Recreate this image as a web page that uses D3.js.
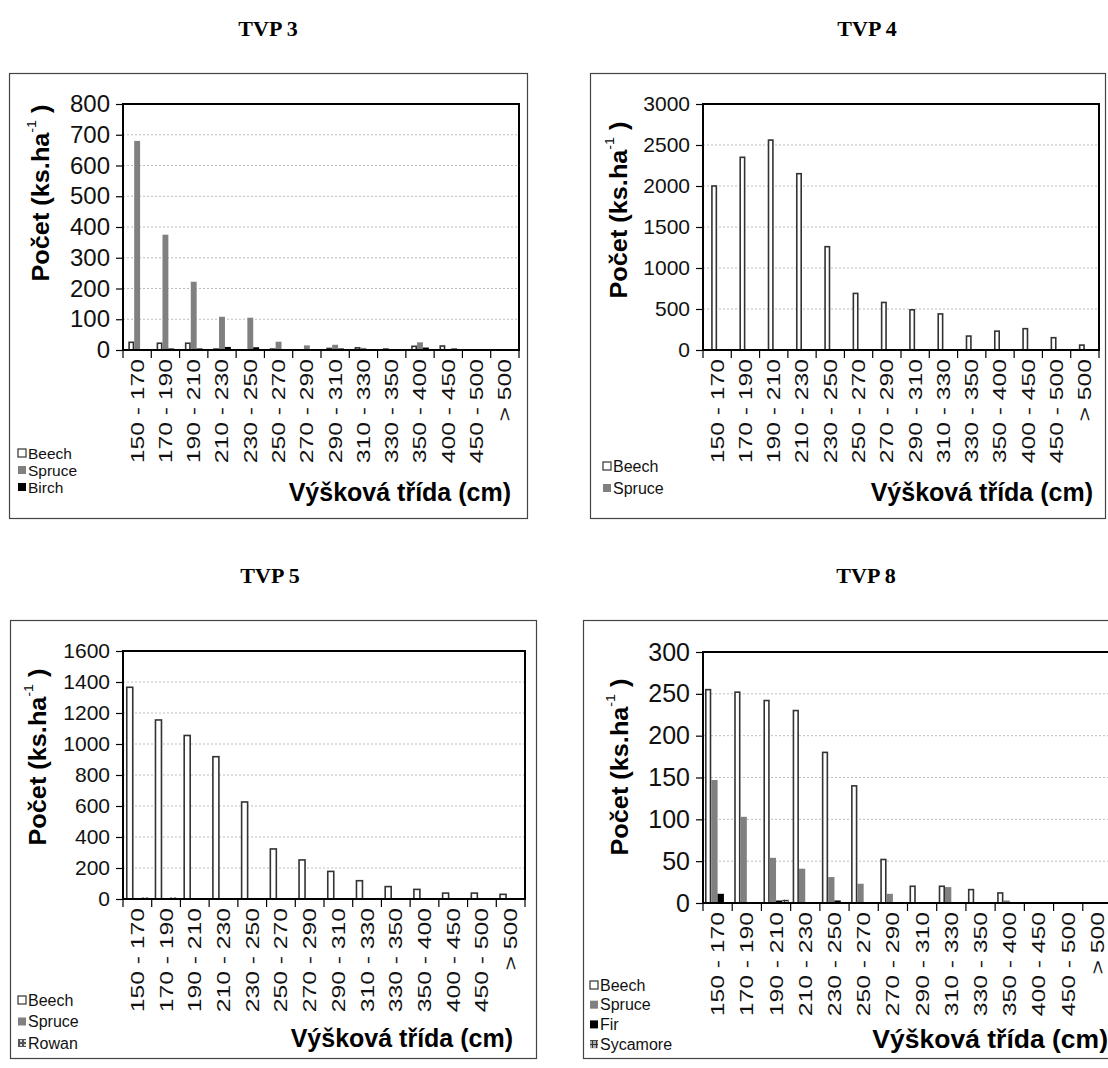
<!DOCTYPE html>
<html>
<head>
<meta charset="utf-8">
<script src="https://cdn.jsdelivr.net/npm/d3@7"></script>
<style>
  html, body { margin: 0; padding: 0; background: #fff; }
  svg { display: block; }
</style>
</head>
<body>
<svg id="chart" width="1108" height="1068"></svg>
<script>
// ---------- DATA ----------
const categories = ["150 - 170", "170 - 190", "190 - 210", "210 - 230", "230 - 250", "250 - 270",
  "270 - 290", "290 - 310", "310 - 330", "330 - 350", "350 - 400", "400 - 450", "450 - 500", "> 500"];

const tvp3Beech  = [25, 22, 22, 3, 0, 3, 0, 5, 7, 3, 12, 13, 0, 0];
const tvp3Spruce = [680, 375, 222, 108, 105, 27, 15, 17, 7, 3, 25, 0, 3, 0];
const tvp3Birch  = [0, 5, 5, 10, 9, 0, 0, 5, 0, 0, 8, 5, 0, 0];

const tvp4Beech  = [2000, 2350, 2560, 2150, 1260, 690, 580, 490, 440, 170, 230, 260, 150, 60];
const tvp4Spruce = [0, 0, 0, 0, 0, 0, 0, 0, 0, 0, 0, 0, 0, 0];

const tvp5Beech  = [1366, 1155, 1055, 918, 626, 323, 252, 178, 118, 80, 62, 38, 38, 30];
const tvp5Spruce = [0, 0, 0, 0, 0, 0, 0, 0, 0, 0, 0, 0, 0, 0];
const tvp5Rowan  = [10, 10, 0, 0, 0, 0, 0, 0, 0, 0, 0, 0, 0, 0];

const tvp8Beech    = [255, 252, 242, 230, 180, 140, 52, 20, 20, 16, 12, 0, 0, 0];
const tvp8Spruce   = [147, 103, 54, 41, 31, 23, 11, 0, 19, 0, 3, 0, 0, 0];
const tvp8Fir      = [11, 0, 3, 0, 3, 0, 0, 0, 0, 0, 0, 0, 0, 0];
const tvp8Sycamore = [0, 0, 4, 0, 0, 0, 0, 0, 0, 0, 0, 0, 0, 0];

const panelTitles = ["TVP 3", "TVP 4", "TVP 5", "TVP 8"];
const yTicks3 = [0, 100, 200, 300, 400, 500, 600, 700, 800];
const yTicks4 = [0, 500, 1000, 1500, 2000, 2500, 3000];
const yTicks5 = [0, 200, 400, 600, 800, 1000, 1200, 1400, 1600];
const yTicks8 = [0, 50, 100, 150, 200, 250, 300];
const yTitleMain = "Počet (ks.ha";
const yTitleSup = "-1";
const xTitleText = "Výšková třída (cm)";

// ---------- STYLES ----------
const styles = {
  Beech:    { fill: "#ffffff", stroke: "#333333", sw: 1.6 },
  Spruce:   { fill: "#808080", stroke: "none", sw: 0 },
  Birch:    { fill: "#000000", stroke: "none", sw: 0 },
  Fir:      { fill: "#000000", stroke: "none", sw: 0 },
  Rowan:    { fill: "url(#patRowan)", stroke: "none", sw: 0 },
  Sycamore: { fill: "url(#patSyc)", stroke: "none", sw: 0 }
};

const panels = [
  { title: panelTitles[0], tx: 268, ty: 28, frame: [9, 73, 527, 518], plot: [123, 104, 519, 350],
    ticks: yTicks3, gap: 1.8, tickFont: 24, legFont: 15.5, xtFont: 25,
    series: [["Beech", tvp3Beech], ["Spruce", tvp3Spruce], ["Birch", tvp3Birch]],
    legend: [18, 453, 17], yTitle: [40, 193], xTitle: [511, 501] },
  { title: panelTitles[1], tx: 867, ty: 28, frame: [590, 73, 1105, 518], plot: [703, 104, 1099, 350],
    ticks: yTicks4, gap: 2.7, tickFont: 21, legFont: 16,
    xtFont: 25,
    series: [["Beech", tvp4Beech], ["Spruce", tvp4Spruce]],
    legend: [603, 466, 22], yTitle: [618, 210], xTitle: [1093, 501] },
  { title: panelTitles[2], tx: 270, ty: 575, frame: [10, 620, 536, 1058], plot: [123, 651, 525, 899],
    ticks: yTicks5, gap: 0.78, tickFont: 21, legFont: 16, xtFont: 25,
    series: [["Beech", tvp5Beech], ["Spruce", tvp5Spruce], ["Rowan", tvp5Rowan]],
    legend: [18, 1000, 21.5], yTitle: [37, 757], xTitle: [513, 1047] },
  { title: panelTitles[3], tx: 866, ty: 575, frame: [583, 620, 1130, 1058], plot: [703, 652, 1112, 903],
    ticks: yTicks8, gap: 0.63, tickFont: 25, legFont: 16, xtFont: 26.5,
    series: [["Beech", tvp8Beech], ["Spruce", tvp8Spruce], ["Fir", tvp8Fir], ["Sycamore", tvp8Sycamore]],
    legend: [590, 985, 19.7], yTitle: [619, 767], xTitle: [1108, 1048] }
];

// ---------- DRAW ----------
const svg = d3.select("#chart");
const defs = svg.append("defs");
const pr = defs.append("pattern").attr("id", "patRowan").attr("width", 4).attr("height", 4)
  .attr("patternUnits", "userSpaceOnUse");
pr.append("rect").attr("width", 4).attr("height", 4).attr("fill", "#555");
pr.append("rect").attr("width", 2).attr("height", 2).attr("fill", "#ddd");
const ps = defs.append("pattern").attr("id", "patSyc").attr("width", 4).attr("height", 4)
  .attr("patternUnits", "userSpaceOnUse");
ps.append("rect").attr("width", 4).attr("height", 4).attr("fill", "#aaa");
ps.append("rect").attr("width", 4).attr("height", 1).attr("fill", "#333");
ps.append("rect").attr("width", 1).attr("height", 4).attr("fill", "#333");

const sans = "'Liberation Sans', Arial, sans-serif";

panels.forEach(p => {
  const [fx0, fy0, fx1, fy1] = p.frame;
  const [px0, py0, px1, py1] = p.plot;
  const g = svg.append("g");

  // Title
  g.append("text").attr("x", p.tx).attr("y", p.ty).attr("text-anchor", "middle")
    .attr("dominant-baseline", "central")
    .style("font-family", "'Liberation Serif', 'Times New Roman', serif")
    .style("font-weight", "bold").style("font-size", "22px").text(p.title);

  // Outer frame
  g.append("rect").attr("x", fx0 + 0.5).attr("y", fy0 + 0.5)
    .attr("width", fx1 - fx0).attr("height", fy1 - fy0)
    .attr("fill", "none").attr("stroke", "#444").attr("stroke-width", 1.2);

  const yMax = p.ticks[p.ticks.length - 1];
  const y = d3.scaleLinear().domain([0, yMax]).range([py1, py0]);
  const x = d3.scaleBand().domain(categories).range([px0, px1]).padding(0);
  const names = p.series.map(s => s[0]);
  const bw = x.bandwidth() / (names.length + p.gap);
  const off = (x.bandwidth() - bw * names.length) / 2;
  const xs = d3.scaleBand().domain(names).range([off, off + bw * names.length]).padding(0);

  // gridlines
  g.append("g").selectAll("line").data(p.ticks.filter(t => t > 0 && t < yMax)).join("line")
    .attr("x1", px0).attr("x2", px1).attr("y1", d => y(d)).attr("y2", d => y(d))
    .attr("stroke", "#bdbdbd").attr("stroke-width", 1).attr("stroke-dasharray", "2,2");

  // bars
  p.series.forEach(([name, vals]) => {
    const st = styles[name];
    g.append("g").selectAll("rect").data(vals.map((v, i) => ({ v, c: categories[i] })))
      .join("rect")
      .filter(d => d.v > 0)
      .attr("x", d => x(d.c) + xs(name) + (st.sw ? st.sw / 2 : 0))
      .attr("y", d => y(d.v))
      .attr("width", xs.bandwidth() - (st.sw ? st.sw : 0))
      .attr("height", d => y(0) - y(d.v))
      .attr("fill", st.fill).attr("stroke", st.stroke).attr("stroke-width", st.sw);
  });

  // plot border
  g.append("rect").attr("x", px0).attr("y", py0).attr("width", px1 - px0).attr("height", py1 - py0)
    .attr("fill", "none").attr("stroke", "#000").attr("stroke-width", 2);

  // y axis
  const yAxis = d3.axisLeft(y).tickValues(p.ticks).tickSize(7).tickPadding(6).tickFormat(d3.format("d"));
  const ya = g.append("g").attr("transform", `translate(${px0},0)`).call(yAxis);
  ya.select(".domain").remove();
  ya.selectAll("line").attr("stroke", "#000").attr("stroke-width", 1.2);
  ya.selectAll("text").style("font-family", sans).style("font-size", p.tickFont + "px").attr("fill", "#111");

  // x category boundary ticks
  const bounds = categories.map(c => x(c)).concat([px1]);
  g.append("g").selectAll("line").data(bounds).join("line")
    .attr("x1", d => d).attr("x2", d => d).attr("y1", py1).attr("y2", py1 + 8)
    .attr("stroke", "#000").attr("stroke-width", 1.2);

  // x tick labels (rotated)
  g.append("g").selectAll("text").data(categories).join("text")
    .attr("transform", d => `translate(${x(d) + x.bandwidth() / 2},${py1 + 9}) rotate(-90) scale(1.3,1)`)
    .attr("text-anchor", "end").attr("dominant-baseline", "central")
    .style("font-family", sans).style("font-size", "19px").attr("fill", "#111")
    .text(d => d);

  // y title
  const yt = g.append("text")
    .attr("transform", `translate(${p.yTitle[0]},${p.yTitle[1]}) rotate(-90) scale(1.1,1)`)
    .attr("text-anchor", "middle").attr("dominant-baseline", "central")
    .style("font-family", sans).style("font-weight", "bold").style("font-size", "23px");
  yt.append("tspan").text(yTitleMain);
  yt.append("tspan").attr("dy", -9).style("font-size", "13px").style("font-weight", "normal").text(yTitleSup);
  yt.append("tspan").attr("dy", 9).text(" )");

  // x title
  g.append("text").attr("x", p.xTitle[0]).attr("y", p.xTitle[1]).attr("text-anchor", "end")
    .style("font-family", sans).style("font-weight", "bold").style("font-size", p.xtFont + "px")
    .text(xTitleText);

  // legend
  const [lx, ly, ldy] = p.legend;
  names.forEach((n, i) => {
    const st = styles[n];
    const cy = ly + i * ldy;
    g.append("rect").attr("x", lx).attr("y", cy - 4).attr("width", 8).attr("height", 8)
      .attr("fill", st.fill).attr("stroke", n === "Beech" ? "#333" : "none").attr("stroke-width", 1.2);
    g.append("text").attr("x", lx + 10).attr("y", cy).attr("dominant-baseline", "central")
      .style("font-family", sans).style("font-size", p.legFont + "px").attr("fill", "#111").text(n);
  });
});
</script>
</body>
</html>
